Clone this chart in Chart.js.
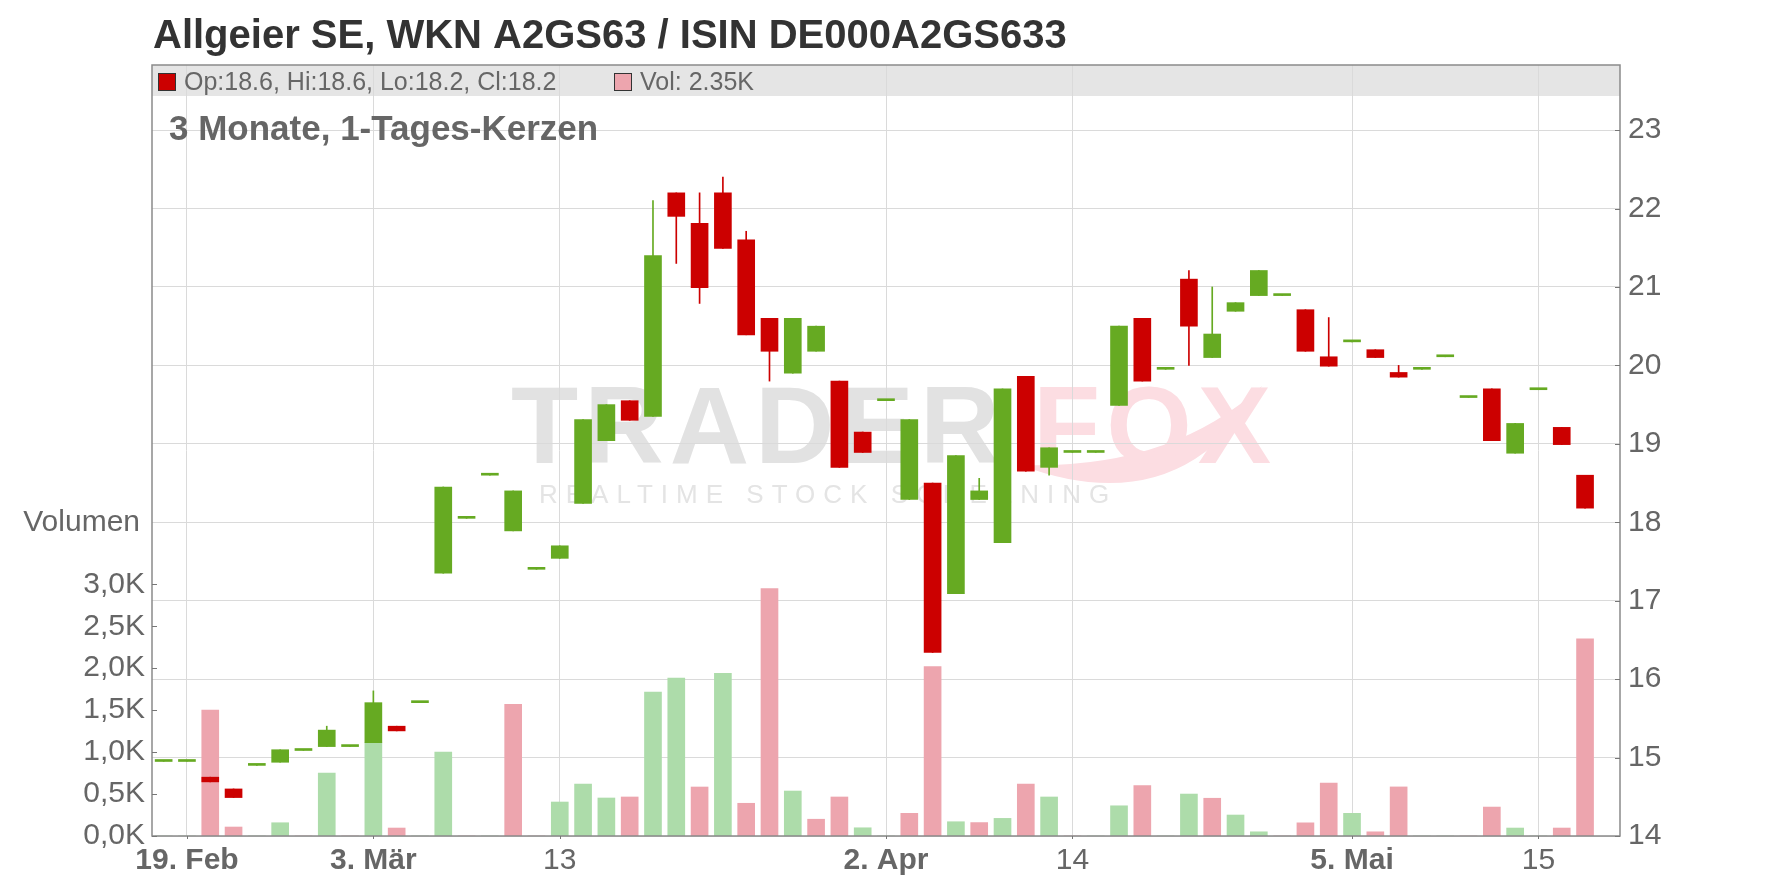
<!DOCTYPE html>
<html>
<head>
<meta charset="utf-8">
<title>Allgeier SE – 3 Monate</title>
<script src="https://cdn.jsdelivr.net/npm/chart.js@4.4.1/dist/chart.umd.min.js"></script>
<style>
  html, body { margin: 0; padding: 0; background: #fff; }
  #wrap { position: relative; width: 1776px; height: 888px; }
</style>
</head>
<body>
<div id="wrap"><canvas id="chart"></canvas></div>
<script>
// ============================================
// Allgeier SE daily candles, 18 Feb - 19 May 2025
// ============================================

var chartTitle = 'Allgeier SE, WKN A2GS63 / ISIN DE000A2GS633';
var chartSubtitle = '3 Monate, 1-Tages-Kerzen';

var dates = [
    '2025-02-18', '2025-02-19', '2025-02-20', '2025-02-21', '2025-02-24', '2025-02-25', '2025-02-26', '2025-02-27', '2025-02-28',
    '2025-03-03', '2025-03-04', '2025-03-05', '2025-03-06', '2025-03-07', '2025-03-10', '2025-03-11', '2025-03-12', '2025-03-13',
    '2025-03-14', '2025-03-17', '2025-03-18', '2025-03-19', '2025-03-20', '2025-03-21', '2025-03-24', '2025-03-25', '2025-03-26',
    '2025-03-27', '2025-03-28', '2025-03-31', '2025-04-01', '2025-04-02', '2025-04-03', '2025-04-04', '2025-04-07', '2025-04-08',
    '2025-04-09', '2025-04-10', '2025-04-11', '2025-04-14', '2025-04-15', '2025-04-16', '2025-04-17', '2025-04-22', '2025-04-23',
    '2025-04-24', '2025-04-25', '2025-04-28', '2025-04-29', '2025-04-30', '2025-05-02', '2025-05-05', '2025-05-06', '2025-05-07',
    '2025-05-08', '2025-05-09', '2025-05-12', '2025-05-13', '2025-05-14', '2025-05-15', '2025-05-16', '2025-05-19'
];

var opens = [
    14.95, 14.95, 14.75, 14.60, 14.90, 14.94, 15.09, 15.14, 15.14,
    15.19, 15.40, 15.70, 17.35, 18.05, 18.60, 17.89, 17.40, 17.54,
    18.24, 19.04, 19.55, 19.35, 22.20, 21.81, 22.20, 21.60, 20.60,
    19.90, 20.18, 19.80, 19.15, 19.55, 18.29, 18.50, 17.09, 18.29,
    17.74, 19.86, 18.70, 18.89, 18.89, 19.49, 20.60, 19.95, 21.10,
    20.10, 20.69, 20.89, 20.89, 20.71, 20.11, 20.30, 20.20, 19.91,
    19.95, 20.11, 19.59, 19.70, 18.88, 19.69, 19.21, 18.60
];
var highs = [
    14.95, 14.95, 14.75, 14.60, 14.90, 15.10, 15.09, 15.40, 15.14,
    15.85, 15.40, 15.70, 18.45, 18.05, 18.60, 18.40, 17.40, 17.70,
    19.31, 19.50, 19.55, 22.10, 22.20, 22.20, 22.40, 21.71, 20.60,
    20.60, 20.50, 19.80, 19.15, 19.55, 19.31, 18.50, 18.85, 18.56,
    19.70, 19.86, 18.95, 18.89, 18.89, 20.50, 20.60, 19.95, 21.21,
    21.00, 20.80, 21.21, 20.89, 20.71, 20.61, 20.30, 20.20, 20.00,
    19.95, 20.11, 19.59, 19.70, 19.26, 19.69, 19.21, 18.60
];
var lows = [
    14.95, 14.95, 14.69, 14.49, 14.90, 14.94, 15.09, 15.14, 15.14,
    15.19, 15.34, 15.70, 17.35, 18.05, 18.60, 17.89, 17.40, 17.54,
    18.24, 19.04, 19.30, 19.35, 21.30, 20.79, 21.49, 20.39, 19.80,
    19.90, 20.18, 18.70, 18.89, 19.55, 18.29, 16.34, 17.09, 18.29,
    17.74, 18.65, 18.60, 18.89, 18.89, 19.49, 19.80, 19.95, 20.00,
    20.10, 20.69, 20.89, 20.89, 20.18, 19.99, 20.30, 20.10, 19.85,
    19.95, 20.11, 19.59, 19.04, 18.88, 19.69, 18.99, 18.18
];
var closes = [
    14.95, 14.95, 14.69, 14.49, 14.90, 15.10, 15.09, 15.35, 15.14,
    15.70, 15.34, 15.70, 18.45, 18.05, 18.60, 18.40, 17.40, 17.70,
    19.31, 19.50, 19.30, 21.40, 21.90, 20.99, 21.49, 20.39, 20.18,
    20.60, 20.50, 18.70, 18.89, 19.55, 19.31, 16.34, 18.85, 18.40,
    19.70, 18.65, 18.95, 18.89, 18.89, 20.50, 19.80, 19.95, 20.50,
    20.40, 20.80, 21.21, 20.89, 20.18, 19.99, 20.30, 20.10, 19.85,
    19.95, 20.11, 19.59, 19.04, 19.26, 19.69, 18.99, 18.18
];
// volume in thousand shares
var volumes = [
    0, 0, 1.50, 0.107, 0, 0.158, 0, 0.75, 0,
    1.11, 0.095, 0, 1.00, 0, 0, 1.57, 0, 0.405,
    0.62, 0.453, 0.465, 1.716, 1.883, 0.584, 1.94, 0.39, 2.95,
    0.536, 0.20, 0.465, 0.098, 0, 0.27, 2.02, 0.17, 0.16,
    0.21, 0.62, 0.465, 0, 0, 0.36, 0.60, 0, 0.50,
    0.45, 0.25, 0.05, 0, 0.157, 0.63, 0.27, 0.05, 0.585,
    0, 0, 0, 0.345, 0.095, 0, 0.095, 2.35
];

// x axis tick labels
var tickDates = ['2025-02-19', '2025-03-03', '2025-03-13', '2025-04-02', '2025-04-14', '2025-05-05', '2025-05-15'];
var tickTexts = ['19. Feb', '3. Mär', '13', '2. Apr', '14', '5. Mai', '15'];

// Colours
var UP = '#66aa22', DOWN = '#cc0000';
var VOL_UP = '#addcaa', VOL_DOWN = '#eda5ae';
var FONT = '"Liberation Sans", Arial, sans-serif';
var TEXT = '#666666';

// one empty slot after the last day, like the original
var categoryLabels = dates.concat(['']);
var tickIdx = tickDates.map(function(d) { return dates.indexOf(d); });

var bodies = [], wicks = [], candleColors = [], volColors = [];
for (var i = 0; i < dates.length; i++) {
    bodies.push([opens[i], closes[i]]);
    wicks.push([lows[i], highs[i]]);
    candleColors.push(closes[i] >= opens[i] ? UP : DOWN);
    var prev = i > 0 ? closes[i - 1] : closes[i];
    volColors.push(closes[i] >= prev ? VOL_UP : VOL_DOWN);
}

function tickText(value) {
    var k = tickDates.indexOf(dates[value]);
    return k >= 0 ? tickTexts[k] : '';
}

// Band, watermark, frame and texts
var chromePlugin = {
    id: 'chrome',
    beforeDraw: function(chart) {
        var ctx = chart.ctx, a = chart.chartArea;
        ctx.save();
        ctx.fillStyle = '#e5e5e5';
        ctx.fillRect(a.left, a.top, a.right - a.left, 31);

        // TRADERFOX watermark
        ctx.textBaseline = 'alphabetic';
        ctx.textAlign = 'left';
        ctx.fillStyle = '#fcdde2';
        ctx.beginPath();
        ctx.moveTo(1020, 465);
        ctx.quadraticCurveTo(1180, 525, 1262, 386);
        ctx.quadraticCurveTo(1170, 470, 1020, 465);
        ctx.fill();
        ctx.font = 'bold 110px ' + FONT;
        ctx.letterSpacing = '6px';
        ctx.fillStyle = '#e2e2e2';
        ctx.fillText('TRADER', 511, 463);
        ctx.fillStyle = '#fcdde2';
        ctx.fillText('FOX', 1033, 463);
        ctx.font = '26px ' + FONT;
        ctx.letterSpacing = '8px';
        ctx.fillStyle = '#e4e4e4';
        ctx.fillText('REALTIME STOCK SCREENING', 539, 503);
        ctx.letterSpacing = '0px';
        ctx.restore();
    },
    afterDraw: function(chart) {
        var ctx = chart.ctx, a = chart.chartArea;
        var yP = chart.scales.yPrice, yV = chart.scales.yVol, x = chart.scales.x;
        ctx.save();

        // frame
        ctx.strokeStyle = '#8a8a8a';
        ctx.lineWidth = 1.5;
        ctx.strokeRect(a.left, a.top, a.right - a.left, a.bottom - a.top);

        // small inward tick marks
        ctx.strokeStyle = '#777';
        ctx.lineWidth = 1;
        ctx.beginPath();
        yV.ticks.forEach(function(t) {
            var py = Math.round(yV.getPixelForValue(t.value)) + 0.5;
            ctx.moveTo(a.left, py); ctx.lineTo(a.left + 5, py);
        });
        yP.ticks.forEach(function(t) {
            var py = Math.round(yP.getPixelForValue(t.value)) + 0.5;
            ctx.moveTo(a.right - 5, py); ctx.lineTo(a.right, py);
        });
        x.ticks.forEach(function(t) {
            var px = Math.round(x.getPixelForValue(t.value)) + 0.5;
            ctx.moveTo(px, a.bottom); ctx.lineTo(px, a.bottom + 3);
        });
        ctx.stroke();

        // title and subtitle
        ctx.textAlign = 'left';
        ctx.textBaseline = 'alphabetic';
        ctx.fillStyle = '#333333';
        ctx.font = 'bold 40px ' + FONT;
        ctx.fillText(chartTitle, 153, 48);
        ctx.fillStyle = TEXT;
        ctx.font = 'bold 35px ' + FONT;
        ctx.fillText(chartSubtitle, 169, 140);

        // legend in the band (last candle)
        var n = dates.length - 1;
        ctx.font = '25px ' + FONT;
        ctx.textBaseline = 'middle';
        ctx.lineWidth = 1;
        ctx.strokeStyle = '#333';
        ctx.fillStyle = candleColors[n];
        ctx.fillRect(158.5, 73.5, 17, 17);
        ctx.strokeRect(158.5, 73.5, 17, 17);
        ctx.fillStyle = TEXT;
        ctx.fillText('Op:' + opens[n].toFixed(1) + ', Hi:' + highs[n].toFixed(1) +
            ', Lo:' + lows[n].toFixed(1) + ', Cl:' + closes[n].toFixed(1), 184, 83);
        ctx.fillStyle = volColors[n];
        ctx.fillRect(614.5, 73.5, 17, 17);
        ctx.strokeRect(614.5, 73.5, 17, 17);
        ctx.fillStyle = TEXT;
        ctx.fillText('Vol: ' + volumes[n].toFixed(2) + 'K', 640, 83);

        // volume axis title
        ctx.textAlign = 'right';
        ctx.font = '30px ' + FONT;
        ctx.fillText('Volumen', 140, 523);
        ctx.restore();
    }
};

Chart.defaults.font.family = FONT;
Chart.defaults.color = TEXT;

new Chart(document.getElementById('chart'), {
    type: 'bar',
    data: {
        labels: categoryLabels,
        datasets: [
            { label: 'Kerzen', data: bodies, yAxisID: 'yPrice', backgroundColor: candleColors,
              barThickness: 17, minBarLength: 2, grouped: false, order: 1 },
            { label: 'Dochte', data: wicks, yAxisID: 'yPrice', backgroundColor: candleColors,
              barThickness: 1, grouped: false, order: 2 },
            { label: 'Volumen', data: volumes, yAxisID: 'yVol', backgroundColor: volColors,
              barThickness: 17, grouped: false, order: 3 }
        ]
    },
    options: {
        responsive: true,
        maintainAspectRatio: false,
        animation: false,
        layout: { padding: { top: 65, left: 0, right: 0, bottom: 0 } },
        plugins: { legend: { display: false }, tooltip: { enabled: false } },
        scales: {
            x: {
                type: 'category',
                offset: true,
                grid: { offset: false, color: '#dadada', drawTicks: false },
                border: { display: false },
                ticks: {
                    autoSkip: false, maxRotation: 0, minRotation: 0, padding: 7, color: TEXT,
                    font: function(c) {
                        var bold = c.tick && tickText(c.tick.value).indexOf('.') >= 0;
                        return { size: 30, weight: bold ? 'bold' : 'normal' };
                    },
                    callback: function(value) { return tickText(value); }
                },
                afterBuildTicks: function(scale) {
                    scale.ticks = tickIdx.map(function(i) { return { value: i }; });
                },
                afterFit: function(scale) { scale.height = 52; }
            },
            yPrice: {
                position: 'right',
                min: 14,
                max: 23.83,
                grid: { color: '#dadada', drawTicks: false },
                border: { display: false },
                ticks: { stepSize: 1, includeBounds: false, padding: 8, color: TEXT, font: { size: 30 } },
                afterFit: function(scale) { scale.width = 156; }
            },
            yVol: {
                position: 'left',
                min: 0,
                max: 9.19,
                grid: { display: false, drawTicks: false, tickLength: 0 },
                border: { display: false },
                ticks: {
                    stepSize: 0.5, includeBounds: false, padding: 7, color: TEXT, font: { size: 30 },
                    callback: function(v) { return v.toFixed(1).replace('.', ',') + 'K'; }
                },
                afterBuildTicks: function(scale) {
                    scale.ticks = scale.ticks.filter(function(t) { return t.value <= 3.0001; });
                },
                afterFit: function(scale) { scale.width = 152; }
            }
        }
    },
    plugins: [chromePlugin]
});
</script>
</body>
</html>
